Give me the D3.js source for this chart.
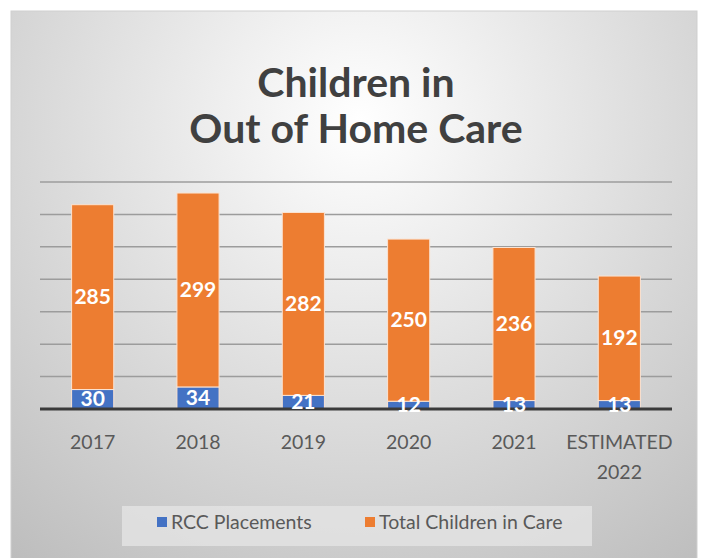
<!DOCTYPE html>
<html lang="en">
	<head>
		<meta charset="utf-8">
		<title>Children in Out of Home Care</title>
		<script type="text/javascript" src="https://cdn.jsdelivr.net/npm/d3@7"></script>
		<style type="text/css">
			body { margin: 0; background: white; }
			text { font-family: Lato, "Open Sans", sans-serif; }
		</style>
	</head>
	<body>
		<script type="text/javascript">

			//Data
			let years = ["2017", "2018", "2019", "2020", "2021", "ESTIMATED 2022"];
			let rcc = [30, 34, 21, 12, 13, 13];
			let total = [285, 299, 282, 250, 236, 192];
			let seriesNames = ["RCC Placements", "Total Children in Care"];
			let ticks = [0, 50, 100, 150, 200, 250, 300, 350];

			let w = 704;
			let h = 558;
			let colors = ["#4472C4", "#ED7D31"];

			let svg = d3.select("body")
						.append("svg")
						  .attr("width", w)
						  .attr("height", h);

			//Background gradient
			let grad = svg.append("defs").append("radialGradient")
						  .attr("id", "bg")
						  .attr("gradientUnits", "userSpaceOnUse")
						  .attr("cx", 360).attr("cy", 120).attr("r", 560);
			grad.append("stop").attr("offset", "0%").attr("stop-color", "#ffffff");
			grad.append("stop").attr("offset", "100%").attr("stop-color", "#bdbdbd");

			svg.append("rect")
				.attr("x", 11).attr("y", 11)
				.attr("width", 686).attr("height", 560)
				.attr("fill", "url(#bg)")
				.attr("stroke", "#cfcfcf");

			//Scales
			let x = d3.scaleBand()
						.domain(years)
						.range([40, 672])
						.paddingInner(0.6)
						.paddingOuter(0.3);
			let y = d3.scaleLinear()
						.domain([0, 350])
						.range([409, 182]);

			//Gridlines
			svg.append("g")
				.selectAll("line")
				.data(ticks.slice(1))
				.enter()
			  .append("line")
				.attr("x1", 40).attr("x2", 672)
				.attr("y1", d => y(d)).attr("y2", d => y(d))
				.attr("stroke", "#9c9c9c")
				.attr("stroke-width", 1.5);

			//Stack
			let rows = years.map((yr, i) => ({year: yr, rcc: rcc[i], total: total[i]}));
			let stacked = d3.stack().keys(["rcc", "total"])(rows);

			let layers = svg.selectAll("g.layer")
						    .data(stacked)
						    .enter()
						  .append("g")
						    .attr("class", "layer")
						    .attr("fill", (d, i) => colors[i]);

			layers.selectAll("rect")
				.data(d => d)
				.enter()
			  .append("rect")
				.attr("x", d => x(d.data.year))
				.attr("width", x.bandwidth())
				.attr("y", d => y(d[1]))
				.attr("height", d => y(d[0]) - y(d[1]))
				.attr("stroke", "#fbe3d2")
				.attr("stroke-width", 1);

			//Axis baseline
			svg.append("line")
				.attr("x1", 40).attr("x2", 672)
				.attr("y1", y(0)).attr("y2", y(0))
				.attr("stroke", "#3a3a3a")
				.attr("stroke-width", 3);

			//Value labels (drawn over the baseline)
			svg.selectAll("g.labels")
				.data(stacked)
				.enter()
			  .append("g")
				.attr("class", "labels")
			  .selectAll("text")
				.data(d => d)
				.enter()
			  .append("text")
				.attr("x", d => x(d.data.year) + x.bandwidth() / 2)
				.attr("y", d => (y(d[0]) + y(d[1])) / 2 + 7)
				.attr("text-anchor", "middle")
				.attr("fill", "white")
				.attr("font-weight", "bold")
				.attr("font-size", 21)
				.text(d => d[1] - d[0]);

			//Category labels
			let xlab = svg.append("g")
						.selectAll("text")
						.data(years)
						.enter()
					  .append("text")
						.attr("x", d => x(d) + x.bandwidth() / 2)
						.attr("y", 449)
						.attr("text-anchor", "middle")
						.attr("fill", "#595959")
						.attr("font-size", 19.5);
			xlab.selectAll("tspan")
				.data(d => d.split(" "))
				.enter()
			  .append("tspan")
				.attr("x", function() { return this.parentNode.getAttribute("x"); })
				.attr("dy", (d, i) => i ? 30 : 0)
				.text(d => d);

			//Title
			svg.append("text")
				.attr("x", 356).attr("y", 97)
				.attr("text-anchor", "middle")
				.attr("fill", "#404040")
				.attr("font-weight", "bold")
				.attr("font-size", 41)
				.text("Children in");
			svg.append("text")
				.attr("x", 356).attr("y", 143)
				.attr("text-anchor", "middle")
				.attr("fill", "#404040")
				.attr("font-weight", "bold")
				.attr("font-size", 41)
				.text("Out of Home Care");

			//Legend
			svg.append("rect")
				.attr("x", 122).attr("y", 506)
				.attr("width", 470).attr("height", 40)
				.attr("fill", "#e4e4e4")
				.attr("opacity", 0.8);
			let legendX = [157, 365];
			let leg = svg.selectAll("g.legend")
						.data(seriesNames)
						.enter()
					  .append("g")
						.attr("class", "legend")
						.attr("transform", (d, i) => `translate(${legendX[i]},522)`);
			leg.append("rect")
				.attr("x", 0).attr("y", -5)
				.attr("width", 10).attr("height", 10)
				.attr("fill", (d, i) => colors[i]);
			leg.append("text")
				.attr("x", 14).attr("y", 7)
				.attr("fill", "#595959")
				.attr("font-size", 19.5)
				.text(d => d);

		</script>
	</body>
</html>
